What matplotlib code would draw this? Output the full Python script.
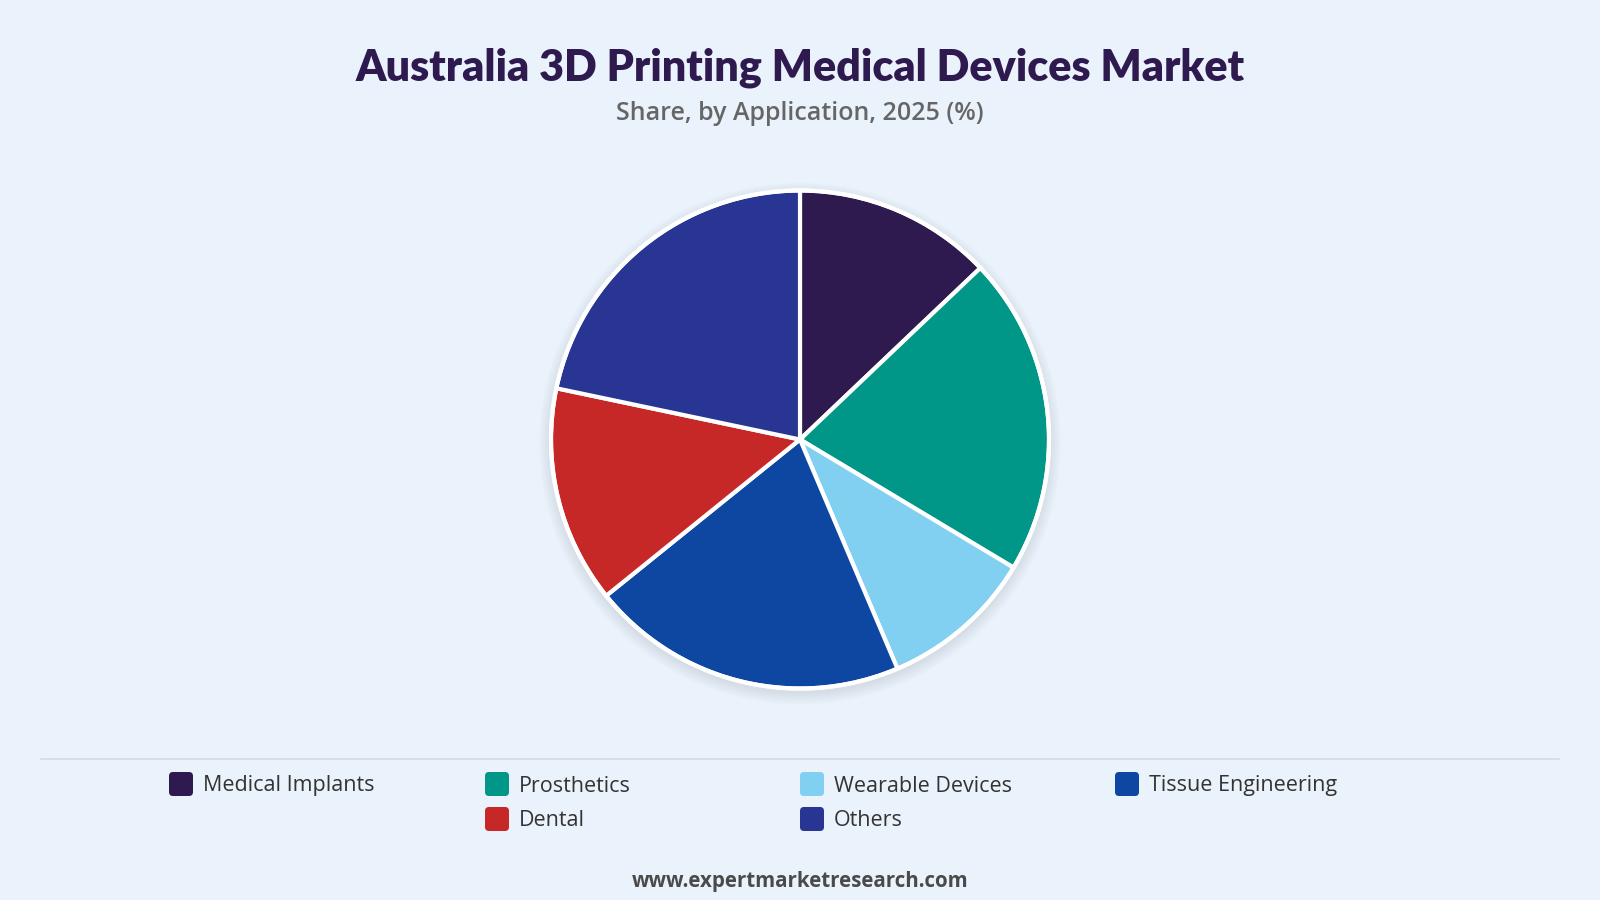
import matplotlib
matplotlib.use("Agg")
import matplotlib.pyplot as plt
from matplotlib.patches import Circle, FancyBboxPatch

# data
labels = ["Medical Implants", "Prosthetics", "Wearable Devices",
          "Tissue Engineering", "Dental", "Others"]
shares = [12.9, 20.7, 10.0, 20.6, 14.1, 21.7]
colors = ["#2E1A4F", "#009688", "#81CFF1", "#0D47A1", "#C62828", "#283593"]

title = "Australia 3D Printing Medical Devices Market"
subtitle = "Share, by Application, 2025 (%)"
footer = "www.expertmarketresearch.com"

bg = "#EAF2FB"
W, H = 1600, 900

fig = plt.figure(figsize=(16, 9), dpi=100, facecolor=bg)
ax = fig.add_axes([0, 0, 1, 1])
ax.set_facecolor(bg)

cx, cy, r = 800, 900 - 439.5, 249

# soft shadow under the pie
for i in range(10):
    ax.add_patch(Circle((cx, cy - 4), r + 1 + i * 1.2, color="#a8b3c4",
                        alpha=0.03, lw=0, zorder=1))

wedges, _ = ax.pie(shares, colors=colors, startangle=90, counterclock=False,
                   center=(cx, cy), radius=r,
                   wedgeprops=dict(edgecolor="white", linewidth=3, zorder=3))
ax.add_patch(Circle((cx, cy), r, fill=False, ec="white", lw=3, zorder=4))

ax.set_xlim(0, W)
ax.set_ylim(0, H)
ax.set_aspect("equal")
ax.axis("off")

# titles
ax.text(W / 2, H - 68, title, ha="center", va="center", fontsize=31,
        fontweight="heavy", color="#2E1A4F", family="Lato")
ax.text(W / 2, H - 113, subtitle, ha="center", va="center", fontsize=18,
        color="#666666", family="Open Sans", fontweight="semibold")

# separator line
ax.plot([41, 1559], [H - 759, H - 759], color="#d5dbe3", lw=1.2)

# legend
col_x = [169, 485, 800, 1115]
row_y = [784, 819]
sq = 24
for i, (lab, c) in enumerate(zip(labels, colors)):
    if i < 4:
        x, y = col_x[i], row_y[0]
    else:
        x, y = col_x[i - 3], row_y[1]
    ax.add_patch(FancyBboxPatch((x, H - y - sq / 2), sq, sq,
                                boxstyle="round,pad=0,rounding_size=4",
                                fc=c, ec="none"))
    ax.text(x + sq + 10, H - y - 2, lab, ha="left", va="center", fontsize=15.5,
            color="#333333", family="Open Sans")

ax.text(W / 2, H - 881, footer, ha="center", va="center", fontsize=14.8,
        fontweight="bold", color="#4a4a4a", family="Open Sans")

fig.savefig("out.png", dpi=100, facecolor=bg)
